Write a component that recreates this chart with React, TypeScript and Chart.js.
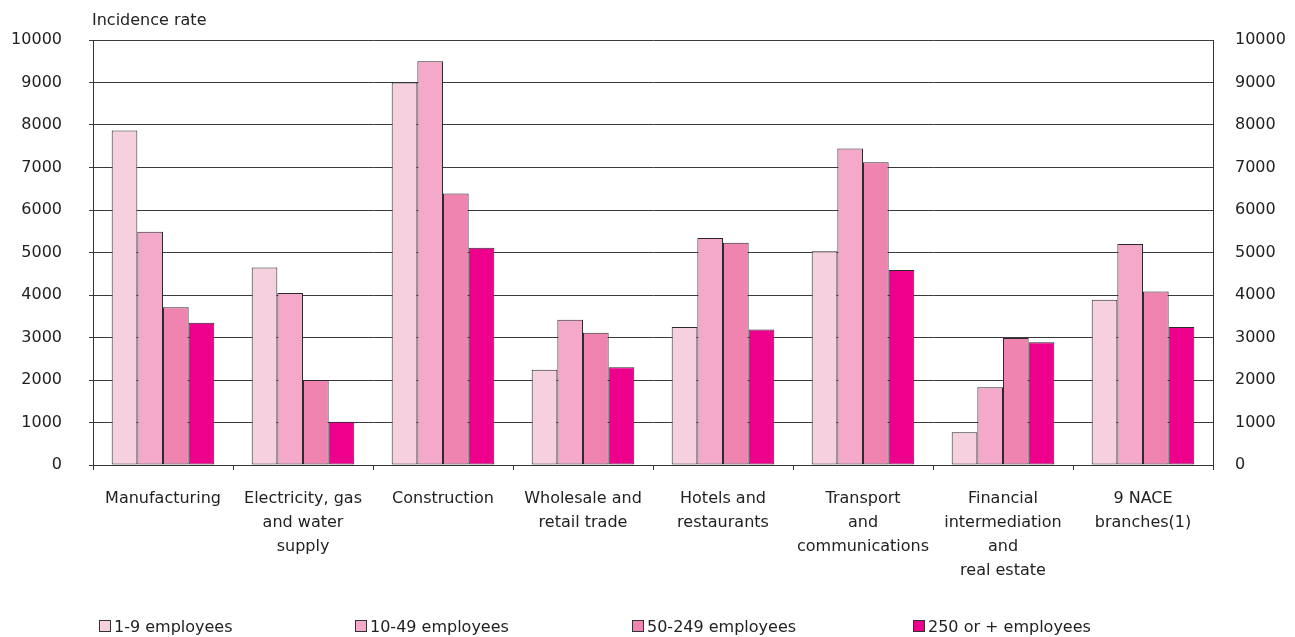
import React, { useEffect, useRef } from "react";
import { Chart, registerables } from "chart.js";

Chart.register(...registerables);

const categories: string[][] = [
  ["Manufacturing"],
  ["Electricity, gas", "and water", "supply"],
  ["Construction"],
  ["Wholesale and", "retail trade"],
  ["Hotels and", "restaurants"],
  ["Transport", "and", "communications"],
  ["Financial", "intermediation", "and", "real estate"],
  ["9 NACE", "branches(1)"],
];

const seriesNames = ["1-9 employees", "10-49 employees", "50-249 employees", "250 or + employees"];
const employees1to9 = [7870, 4650, 9000, 2240, 3250, 5030, 770, 3890];
const employees10to49 = [5490, 4050, 9500, 3420, 5340, 7450, 1830, 5200];
const employees50to249 = [3710, 2000, 6390, 3110, 5230, 7125, 2990, 4080];
const employees250plus = [3350, 1020, 5110, 2300, 3190, 4590, 2890, 3250];
const seriesColors = ["#F7D0E0", "#F4A9CB", "#F084B0", "#EC008C"];
const legendX = [99, 355, 632, 913];

const FONT = "'DejaVu Sans', 'Liberation Sans', Arial, sans-serif";
const TEXT = "#222";
const FS = 16;

export default function App() {
  const ref = useRef<HTMLCanvasElement | null>(null);
  useEffect(() => {
    if (!ref.current) return;
    const allSeries = [employees1to9, employees10to49, employees50to249, employees250plus];
    const chart = new Chart(ref.current, {
      type: "bar",
      data: {
        labels: categories,
        datasets: allSeries.map((d, i) => ({
          label: seriesNames[i],
          data: d,
          backgroundColor: seriesColors[i],
          borderColor: "#2a2a2a",
          borderWidth: 1,
          borderSkipped: false,
          categoryPercentage: 0.733,
          barPercentage: 1,
          yAxisID: "y",
        })),
      },
      options: {
        responsive: false,
        animation: false,
        layout: { padding: { top: 40, left: 0, right: 0, bottom: 0 } },
        plugins: { legend: { display: false }, title: { display: false }, tooltip: { enabled: false } },
        scales: {
          x: {
            offset: true,
            grid: { display: true, drawOnChartArea: false, drawTicks: true, tickLength: 5, color: "#333", offset: true },
            border: { display: true, color: "#333", width: 1 },
            ticks: {
              autoSkip: false,
              maxRotation: 0,
              minRotation: 0,
              padding: 17,
              color: TEXT,
              font: { family: FONT, size: FS, lineHeight: 1.5 },
            },
            afterFit: (s: any) => { s.height = 172; },
          },
          y: {
            position: "left",
            min: 0,
            max: 10000,
            ticks: { stepSize: 1000, padding: 27, color: TEXT, font: { family: FONT, size: FS }, callback: (v: any) => String(v) },
            grid: { color: "#3a3a3a", lineWidth: 1, tickLength: 4, drawTicks: true },
            border: { display: true, color: "#333", width: 1 },
            afterFit: (s: any) => { s.width = 93; },
          },
          y2: {
            position: "right",
            min: 0,
            max: 10000,
            ticks: { stepSize: 1000, padding: 22, color: TEXT, font: { family: FONT, size: FS }, callback: (v: any) => String(v) },
            grid: { drawOnChartArea: false, drawTicks: false },
            border: { display: true, color: "#333", width: 1 },
            afterFit: (s: any) => { s.width = 82; },
          },
        },
      },
    });
    return () => chart.destroy();
  }, []);

  return (
    <div style={{ position: "absolute", left: 0, top: 0, width: 1295, height: 637, background: "#fff", fontFamily: FONT }}>
      <canvas ref={ref} width={1295} height={637} style={{ position: "absolute", left: 0, top: 0 }} />
      <div style={{ position: "absolute", left: 92, top: 10, fontSize: FS, lineHeight: "20px", color: TEXT, whiteSpace: "nowrap" }}>
        Incidence rate
      </div>
      {seriesNames.map((n, i) => (
        <div key={n} style={{ position: "absolute", left: legendX[i], top: 616, height: 20, display: "flex", alignItems: "center", whiteSpace: "nowrap", fontSize: FS, color: TEXT }}>
          <span style={{ display: "inline-block", width: 10, height: 10, background: seriesColors[i], border: "1px solid #333", marginRight: 3 }} />
          <span>{n}</span>
        </div>
      ))}
    </div>
  );
}
